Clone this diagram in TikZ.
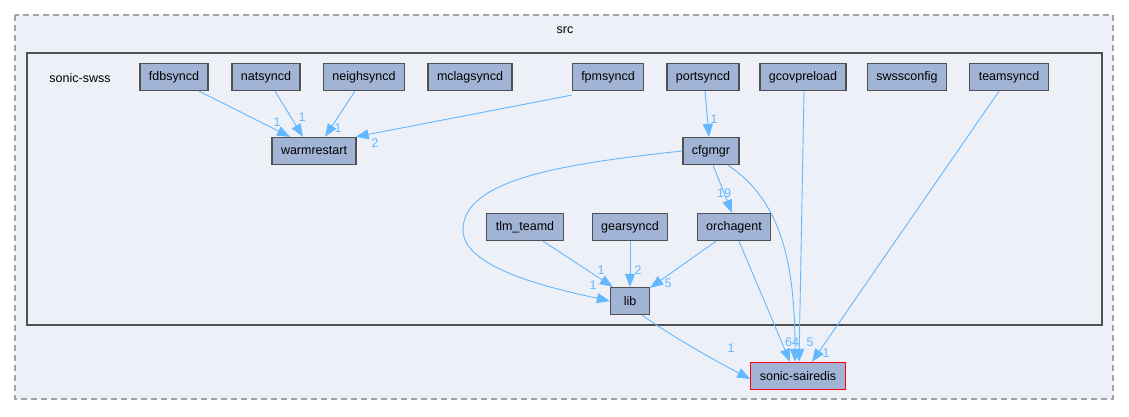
\documentclass[tikz,border=0pt]{standalone}
\usepackage{fontspec}
\setmainfont{Liberation Sans}
\usepackage{tikz}
\usetikzlibrary{arrows.meta}
\definecolor{dirbg}{HTML}{EDF0F7}
\definecolor{dirline}{HTML}{A3A3A3}
\definecolor{boxfill}{HTML}{A2B4D6}
\definecolor{boxline}{HTML}{505050}
\definecolor{edgeblue}{HTML}{63B8FF}

\begin{document}
\begin{tikzpicture}[x=1pt,y=-1pt,
  font=\fontsize{12.5}{14}\selectfont,
  dirbox/.style={draw=boxline,fill=boxfill,line width=1.3pt,minimum height=27pt,minimum width=39pt,inner xsep=9pt,inner ysep=0pt},
  dep/.style={draw=edgeblue,line width=0.9pt,-{Triangle[length=13pt,width=10pt]}},
  lbl/.style={text=edgeblue,inner sep=0pt}]
\useasboundingbox (0,0) rectangle (1129,416);
% src and sonic-swss
\draw[dirline,fill=dirbg,dashed,line width=1.3pt,dash pattern=on 6pt off 4pt] (15,15) rectangle (1113,399);
\node (srclbl) at (565,30) {src};
\draw[boxline,fill=dirbg,line width=2.6pt] (27,53) rectangle (1102,325);
\node (swsslbl) at (80,78) {sonic-swss};
% top row
\node[dirbox] (fdbsyncd) at (174,77) {fdbsyncd};
\node[dirbox] (natsyncd) at (266,77) {natsyncd};
\node[dirbox] (neighsyncd) at (364,77) {neighsyncd};
\node[dirbox] (mclagsyncd) at (470,77) {mclagsyncd};
\node[dirbox] (fpmsyncd) at (608,77) {fpmsyncd};
\node[dirbox] (portsyncd) at (703,77) {portsyncd};
\node[dirbox] (gcovpreload) at (803,77) {gcovpreload};
\node[dirbox] (swssconfig) at (907,77) {swssconfig};
\node[dirbox] (teamsyncd) at (1009,77) {teamsyncd};
% middle
\node[dirbox] (warmrestart) at (314,151) {warmrestart};
\node[dirbox] (cfgmgr) at (711,151) {cfgmgr};
\node[dirbox] (tlm_teamd) at (525,227) {tlm\_teamd};
\node[dirbox] (gearsyncd) at (630,227) {gearsyncd};
\node[dirbox] (orchagent) at (734,227) {orchagent};
\node[dirbox] (lib) at (630,301) {lib};
\node[dirbox,draw=red] (sairedis) at (798,376) {sonic-sairedis};
% edges
\draw[dep] ([xshift=25pt]fdbsyncd.south) -- ([xshift=-24pt]warmrestart.north) node[lbl] at (277,122) {1};
\draw[dep] ([xshift=9pt]natsyncd.south) -- ([xshift=-11pt]warmrestart.north) node[lbl] at (302,117) {1};
\draw[dep] ([xshift=-9pt]neighsyncd.south) -- ([xshift=11pt]warmrestart.north) node[lbl] at (338,128) {1};
\draw[dep] ([yshift=-4pt]fpmsyncd.south west) -- ([xshift=-1pt]warmrestart.north east) node[lbl] at (375,143) {2};
\draw[dep] ([xshift=2pt]portsyncd.south) -- ([xshift=-2pt]cfgmgr.north) node[lbl] at (714,119) {1};
\draw[dep] ([xshift=2pt]cfgmgr.south) -- ([xshift=-2pt]orchagent.north) node[lbl] at (724,193) {19};
\draw[dep] (cfgmgr.west) .. controls (560,164) and (463,180) .. (463,230)
  .. controls (463,270) and (560,290) .. (lib.west) node[lbl] at (593,285) {1};
\draw[dep] ([xshift=17pt]cfgmgr.south) .. controls (780,200) and (795,260) .. ([xshift=-3pt]sairedis.north) node[lbl] at (810,342) {5};
\draw[dep] ([xshift=1pt]gcovpreload.south) -- ([xshift=1pt]sairedis.north);
\draw[dep] ([xshift=-10pt]teamsyncd.south) -- ([xshift=14pt]sairedis.north) node[lbl] at (826,353) {1};
\draw[dep] ([xshift=5pt]orchagent.south) -- ([xshift=-8pt]sairedis.north) node[lbl] at (792,342) {64};
\draw[dep] ([xshift=-18pt]orchagent.south) -- ([yshift=-1pt]lib.north east) node[lbl] at (668,283) {5};
\draw[dep] ([xshift=18pt]tlm_teamd.south) -- ([xshift=3pt]lib.north west) node[lbl] at (601,270) {1};
\draw[dep] (gearsyncd.south) -- (lib.north) node[lbl] at (638,270) {2};
\draw[dep] ([xshift=12pt]lib.south) .. controls (670,335) and (710,358) .. ([yshift=-3pt]sairedis.west) node[lbl] at (731,348) {1};
\end{tikzpicture}
\end{document}
